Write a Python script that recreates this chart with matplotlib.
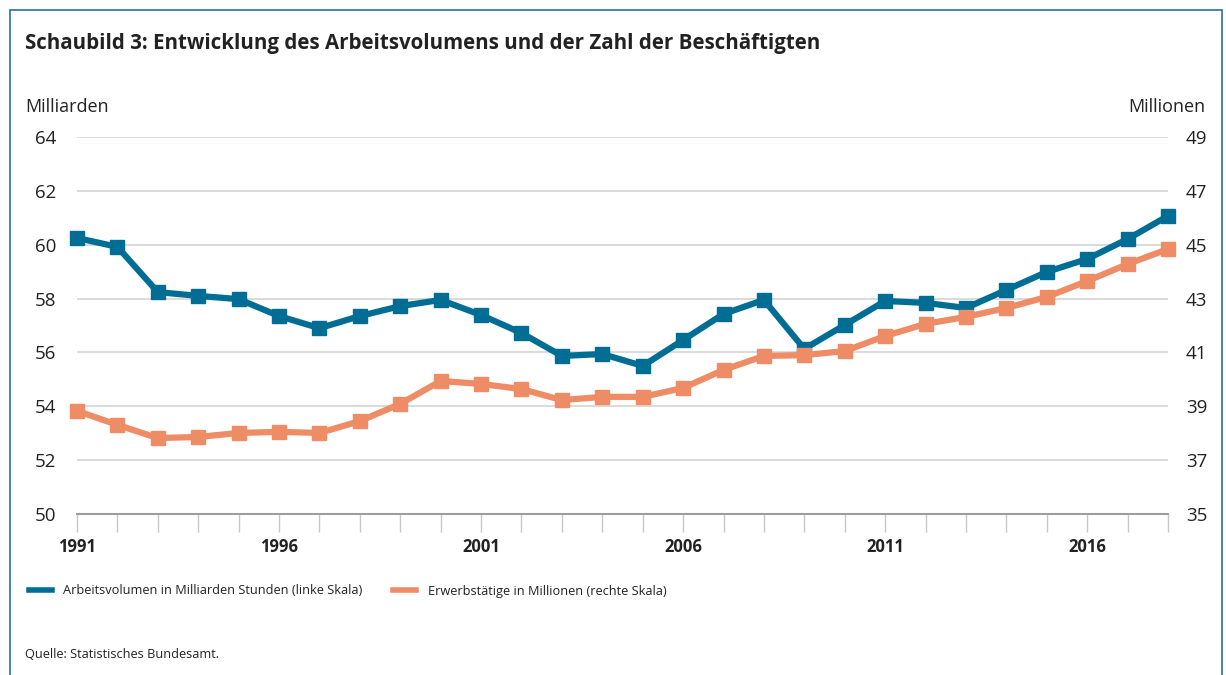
import matplotlib.pyplot as plt
from matplotlib.patches import Rectangle
from matplotlib.lines import Line2D

plt.rcParams['font.family'] = ['Open Sans', 'DejaVu Sans']

jahre = list(range(1991, 2019))
arbeitsvolumen = [60.25, 59.92, 58.24, 58.10, 57.98, 57.35, 56.90, 57.35, 57.72, 57.95,
                  57.39, 56.72, 55.87, 55.94, 55.50, 56.46, 57.43, 57.95, 56.13, 57.02,
                  57.91, 57.84, 57.65, 58.32, 58.99, 59.47, 60.21, 61.07]
erwerbstaetige = [38.83, 38.31, 37.82, 37.86, 38.01, 38.05, 38.01, 38.45, 39.09, 39.94,
                  39.83, 39.64, 39.23, 39.35, 39.35, 39.68, 40.35, 40.87, 40.90, 41.05,
                  41.61, 42.06, 42.32, 42.65, 43.06, 43.65, 44.28, 44.84]
links_ticks = [50, 52, 54, 56, 58, 60, 62, 64]
rechts_ticks = [35, 37, 39, 41, 43, 45, 47, 49]
jahr_labels = [1991, 1996, 2001, 2006, 2011, 2016]

blau = '#006e94'
orange = '#ee8c66'
text_c = '#222222'

fig = plt.figure(figsize=(12.26, 6.75), dpi=100)
fig.patches.append(Rectangle((10 / 1226, -0.1), 1212 / 1226, 1.1 - 10 / 675,
                             transform=fig.transFigure, fill=False,
                             edgecolor='#2a6ea6', linewidth=1.2))

ax = fig.add_axes([77 / 1226, 1 - 514 / 675, (1168 - 77) / 1226, (514 - 137) / 675])
ax2 = ax.twinx()

ax.set_xlim(1991, 2018)
ax.set_ylim(50, 64)
ax2.set_ylim(35, 49)

for y in links_ticks[1:]:
    ax.axhline(y, color='#d4d4d4', linewidth=1.2, zorder=0)

ax.plot(jahre, arbeitsvolumen, color=blau, linewidth=4.5, marker='s',
        markersize=10, clip_on=False, zorder=5)
ax2.plot(jahre, erwerbstaetige, color=orange, linewidth=4.5, marker='s',
         markersize=10, clip_on=False, zorder=4)

for a in (ax, ax2):
    for s in ('top', 'left', 'right'):
        a.spines[s].set_visible(False)
    a.spines['bottom'].set_color('#9a9a9a')
    a.spines['bottom'].set_linewidth(1.2)

ax.set_yticks(links_ticks)
ax.set_yticklabels([str(v) for v in links_ticks], fontsize=13.5, color=text_c)
ax.tick_params(axis='y', length=0, pad=15)
ax2.set_yticks(rechts_ticks)
ax2.set_yticklabels([str(v) for v in rechts_ticks], fontsize=13.5, color=text_c)
ax2.tick_params(axis='y', length=0, pad=13)

ax.set_xticks(jahre)
ax.set_xticklabels([str(j) if j in jahr_labels else '' for j in jahre],
                   fontsize=12, fontweight='bold', color=text_c)
ax.tick_params(axis='x', direction='out', length=13, width=1, color='#c8c8c8', pad=4)

fig.text(25 / 1226, 1 - 43 / 675, 'Schaubild 3: Entwicklung des Arbeitsvolumens und der Zahl der Beschäftigten',
         fontsize=14.8, fontweight='bold', color=text_c, va='center')
fig.text(25 / 1226, 1 - 107 / 675, 'Milliarden', fontsize=13, color=text_c, va='center')
fig.text(1205 / 1226, 1 - 107 / 675, 'Millionen', fontsize=13, color=text_c, va='center', ha='right')

handles = [Line2D([], [], color=blau, linewidth=4),
           Line2D([], [], color=orange, linewidth=4)]
fig.legend(handles, ['Arbeitsvolumen in Milliarden Stunden (linke Skala)',
                     'Erwerbstätige in Millionen (rechte Skala)'],
           loc='center left', bbox_to_anchor=(17 / 1226, 1 - 591 / 675), ncol=2,
           frameon=False, fontsize=9.2, handlelength=1.8, columnspacing=2.4,
           handletextpad=0.9, labelcolor=text_c)

fig.text(25 / 1226, 1 - 655 / 675, 'Quelle: Statistisches Bundesamt.', fontsize=9.2,
         color=text_c, va='center')

fig.savefig('out.png', dpi=100)
